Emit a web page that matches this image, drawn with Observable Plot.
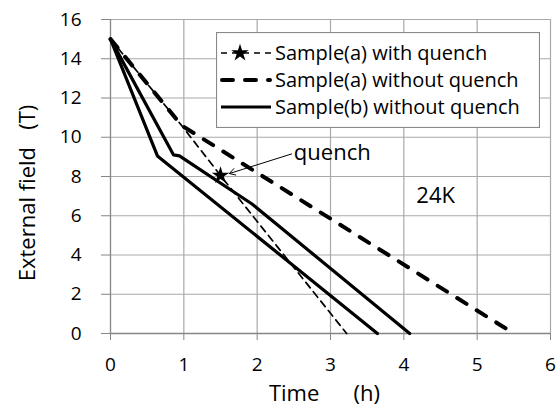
<!DOCTYPE html>
<html><head><meta charset="utf-8">
<script src="https://cdn.jsdelivr.net/npm/d3@7"></script>
<script src="https://cdn.jsdelivr.net/npm/@observablehq/plot@0.6"></script>
<style>
html,body{margin:0;padding:0;background:#fff;}
#wrap{position:relative;width:560px;height:406px;font-family:"Open Sans",sans-serif;}
svg text{white-space:pre;}
#legend{position:absolute;left:216px;top:32px;}
</style></head><body><div id="wrap"></div>
<script>
// ---- data ----
const timeTicks = [0, 1, 2, 3, 4, 5, 6];
const fieldTicks = [0, 2, 4, 6, 8, 10, 12, 14, 16];
const seriesNames = ["Sample(a) with quench", "Sample(a) without quench", "Sample(b) without quench"];
const xTitle = "Time      (h)";
const yTitle = "External field   (T)";

const aQuenchTime = [0, 0.97, 1.5, 3.22];
const aQuenchField = [15, 10.6, 8.05, 0];
const aNoQuenchTime = [0, 0.97, 5.5];
const aNoQuenchField = [15, 10.6, 0];
const b1Time = [0, 0.64, 3.64];
const b1Field = [15, 9.05, 0];
const b2Time = [0, 0.86, 0.94, 1.93, 4.08];
const b2Field = [15, 9.1, 9.05, 6.6, 0];

const quenchTime = [1.5];
const quenchField = [8.05];
const arrowFrom = [2.47, 9.15];
const arrowTo = [1.62, 8.15];
const labelTexts = ["quench", "24K"];
const labelTime = [2.5, 4.17];
const labelField = [9.2, 7.0];

// ---- tables ----
const toRows = (ts, fs) => ts.map((t, i) => ({t, f: fs[i]}));
const aQ = toRows(aQuenchTime, aQuenchField);
const aN = toRows(aNoQuenchTime, aNoQuenchField);
const b1 = toRows(b1Time, b1Field);
const b2 = toRows(b2Time, b2Field);
const star = toRows(quenchTime, quenchField);
const labels = labelTexts.map((s, i) => ({s, t: labelTime[i], f: labelField[i]}));
const arrows = [{x1: arrowFrom[0], y1: arrowFrom[1], x2: arrowTo[0], y2: arrowTo[1]}];

const gridColor = "#a9a9a9";
const axisColor = "#868686";

const chart = Plot.plot({
  width: 560, height: 406,
  marginLeft: 110, marginRight: 10, marginTop: 19, marginBottom: 73,
  style: {fontFamily: "'Open Sans', sans-serif", color: "#000", background: "#fff"},
  x: {domain: [0, 6]},
  y: {domain: [0, 16]},
  marks: [
    Plot.gridX(timeTicks.slice(1), {stroke: gridColor, strokeOpacity: 1, strokeWidth: 1.2}),
    Plot.gridY(fieldTicks.slice(1), {stroke: gridColor, strokeOpacity: 1, strokeWidth: 1.2}),
    Plot.ruleX([0], {stroke: axisColor, strokeWidth: 1.3}),
    Plot.ruleY([0], {stroke: axisColor, strokeWidth: 1.3}),
    Plot.axisX({ticks: timeTicks, tickSize: 7, tickPadding: 17, fontSize: 19, label: null, stroke: axisColor, tickFormat: d => String(d)}),
    Plot.axisY({ticks: fieldTicks, tickSize: 9, tickPadding: 20, fontSize: 19, label: null, stroke: axisColor, tickFormat: d => String(d)}),
    Plot.line(aN, {x: "t", y: "f", stroke: "#000", strokeWidth: 4, strokeDasharray: "11,12", strokeLinecap: "round", strokeLinejoin: "round"}),
    Plot.line(aQ, {x: "t", y: "f", stroke: "#000", strokeWidth: 1.7, strokeDasharray: "7,5"}),
    Plot.line(b1, {x: "t", y: "f", stroke: "#000", strokeWidth: 3.2, strokeLinejoin: "round"}),
    Plot.line(b2, {x: "t", y: "f", stroke: "#000", strokeWidth: 3.2, strokeLinejoin: "round"}),
    Plot.dot(star, {x: "t", y: "f", symbol: "star", r: 5.5, fill: "#000", stroke: "none"}),
    Plot.arrow(arrows, {x1: "x1", y1: "y1", x2: "x2", y2: "y2", stroke: "#000", strokeWidth: 1, headLength: 10, bend: 0}),
    Plot.text(labels, {x: "t", y: "f", text: "s", fontSize: 22, textAnchor: "start", fill: "#000"}),
    Plot.text([xTitle], {frameAnchor: "bottom", text: d => d, lineAnchor: "middle", textAnchor: "middle", dy: 60, dx: -6, fontSize: 22, fill: "#000"}),
    Plot.text([yTitle], {frameAnchor: "left", text: d => d, lineAnchor: "middle", textAnchor: "middle", dx: -83, dy: 16.5, rotate: -90, fontSize: 22, fill: "#000"})
  ]
});
document.getElementById("wrap").appendChild(chart);

// ---- legend (overlay inside plot area) ----
const lg = d3.select("#wrap").append("svg").attr("id", "legend")
  .attr("width", 324).attr("height", 96);
lg.append("rect").attr("x", 0.5).attr("y", 0.5).attr("width", 323).attr("height", 95)
  .attr("fill", "#fff").attr("stroke", "#8a8a8a").attr("stroke-width", 1.2);
const rowsY = [21, 48, 75];
seriesNames.forEach((name, i) => {
  const y = rowsY[i];
  const g = lg.append("g");
  if (i === 0) {
    g.append("line").attr("x1", 5).attr("x2", 55).attr("y1", y).attr("y2", y)
      .attr("stroke", "#000").attr("stroke-width", 1.7).attr("stroke-dasharray", "6,5");
    g.append("path").attr("d", d3.symbol(d3.symbolStar, 95)()).attr("transform", `translate(24,${y})`).attr("fill", "#000");
  } else if (i === 1) {
    g.append("line").attr("x1", 6).attr("x2", 54).attr("y1", y).attr("y2", y)
      .attr("stroke", "#000").attr("stroke-width", 4).attr("stroke-dasharray", "11,12").attr("stroke-linecap", "round");
  } else {
    g.append("line").attr("x1", 5).attr("x2", 55).attr("y1", y).attr("y2", y)
      .attr("stroke", "#000").attr("stroke-width", 3.2);
  }
  g.append("text").attr("x", 59).attr("y", y).attr("dy", "0.35em")
    .attr("font-family", "'Open Sans', sans-serif").attr("font-size", 20).attr("fill", "#000")
    .text(name);
});
</script></body></html>
